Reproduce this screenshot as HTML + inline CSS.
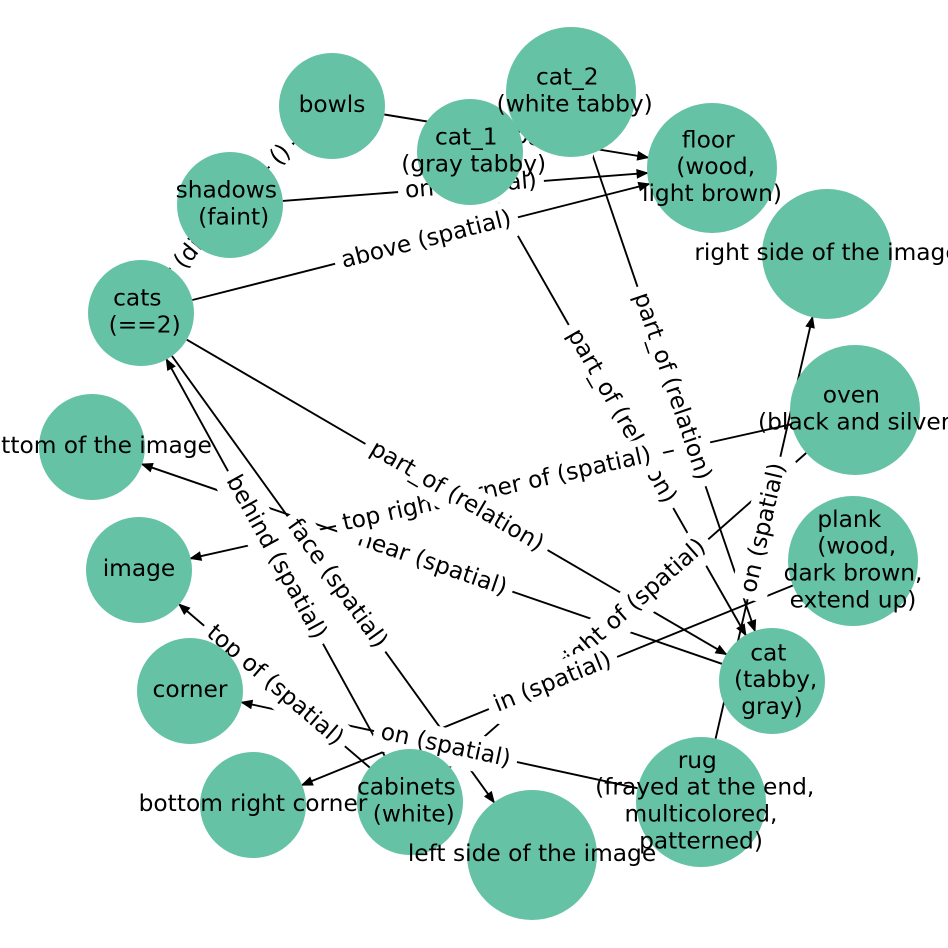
<!DOCTYPE html>
<html><head><meta charset="utf-8"><style>
html,body{margin:0;padding:0;background:#fff;width:948px;height:948px;overflow:hidden}
svg{display:block}
text{font-family:"DejaVu Sans","Liberation Sans",sans-serif;font-size:23.3px;fill:#000;text-anchor:middle;white-space:pre}
</style></head><body>
<svg width="948" height="948" viewBox="0 0 948 948" xml:space="preserve">
<rect width="948" height="948" fill="#fff"/>
<g stroke="#000" stroke-width="1.9" fill="none">
<line x1="384.3" y1="114.5" x2="647.8" y2="157.5"/>
<line x1="282.8" y1="200.9" x2="647.2" y2="173.0"/>
<line x1="192.4" y1="300.0" x2="649.0" y2="184.0"/>
<line x1="174.7" y1="272.1" x2="196.3" y2="245.9"/>
<line x1="268.0" y1="168.1" x2="294.0" y2="142.9"/>
<line x1="496.3" y1="198.0" x2="745.7" y2="635.0"/>
<line x1="592.0" y1="153.5" x2="754.9" y2="630.8"/>
<line x1="186.8" y1="339.7" x2="726.2" y2="654.3"/>
<line x1="721.9" y1="663.8" x2="142.1" y2="464.2"/>
<line x1="384.5" y1="755.6" x2="166.5" y2="359.4"/>
<line x1="172.0" y1="356.0" x2="494.0" y2="802.3"/>
<line x1="369.7" y1="767.5" x2="179.3" y2="604.5"/>
<line x1="637.5" y1="788.2" x2="241.8" y2="702.3"/>
<line x1="715.6" y1="738.7" x2="812.4" y2="317.3"/>
<line x1="806.2" y1="453.0" x2="449.8" y2="767.0"/>
<line x1="791.6" y1="424.2" x2="190.7" y2="558.4"/>
<line x1="792.8" y1="585.5" x2="302.1" y2="785.0"/>
</g>
<g fill="#000" stroke="#000" stroke-width="1.2" stroke-linejoin="miter">
<polygon points="647.8,157.5 637.3,159.9 638.5,151.9"/>
<polygon points="647.2,173.0 637.5,177.8 636.9,169.8"/>
<polygon points="649.0,184.0 640.3,190.4 638.3,182.6"/>
<polygon points="294.0,142.9 289.6,152.8 284.0,147.0"/>
<polygon points="745.7,635.0 737.2,628.3 744.2,624.3"/>
<polygon points="754.9,630.8 747.9,622.6 755.5,620.0"/>
<polygon points="726.2,654.3 715.6,652.8 719.6,645.8"/>
<polygon points="142.1,464.2 152.9,463.7 150.3,471.3"/>
<polygon points="166.5,359.4 174.8,366.3 167.8,370.1"/>
<polygon points="494.0,802.3 485.0,796.5 491.4,791.9"/>
<polygon points="179.3,604.5 189.5,608.0 184.3,614.0"/>
<polygon points="241.8,702.3 252.4,700.5 250.8,708.3"/>
<polygon points="812.4,317.3 814.1,327.9 806.3,326.1"/>
<polygon points="449.8,767.0 454.7,757.4 459.9,763.4"/>
<polygon points="190.7,558.4 199.6,552.3 201.4,560.1"/>
<polygon points="302.1,785.0 309.9,777.5 312.9,784.9"/>
</g>
<!-- edge labels -->
<g transform="translate(522 137) rotate(9.27)"><rect x="-73.1" y="-18.5" width="146.2" height="37" rx="7" fill="#fff"/><text y="6.1">on (spatial)</text></g>
<g transform="translate(471 186.5) rotate(-4.39)"><rect x="-73.1" y="-18.5" width="146.2" height="37" rx="7" fill="#fff"/><text y="6.1">on (spatial)</text></g>
<g transform="translate(281 155.5) rotate(-44.1)"><rect x="-16.1" y="-18.5" width="32.2" height="37" rx="7" fill="#fff"/><text y="6.1">()</text></g>
<g transform="translate(621 416.5) rotate(60.3)"><rect x="-105.4" y="-18.5" width="210.8" height="37" rx="7" fill="#fff"/><text y="6.1">part_of (relation)</text></g>
<g transform="translate(671.5 386.5) rotate(71.15)"><rect x="-105.4" y="-18.5" width="210.8" height="37" rx="7" fill="#fff"/><text y="6.1">part_of (relation)</text></g>
<g transform="translate(432 564) rotate(18.99)"><rect x="-85" y="-18.5" width="170" height="37" rx="7" fill="#fff"/><text y="6.1">near (spatial)</text></g>
<g transform="translate(274.5 686) rotate(40.6)"><rect x="-92.6" y="-18.5" width="185.2" height="37" rx="7" fill="#fff"/><text y="6.1">top of (spatial)</text></g>
<g transform="translate(275.5 557.5) rotate(61.2)"><rect x="-98.5" y="-18.5" width="197" height="37" rx="7" fill="#fff"/><text y="6.1">behind (spatial)</text></g>
<g transform="translate(632.5 606) rotate(-41.37)"><rect x="-100.9" y="-18.5" width="201.8" height="37" rx="7" fill="#fff"/><text y="6.1">right of (spatial)</text></g>
<g transform="translate(445.5 746.5) rotate(12.25)"><rect x="-73.1" y="-18.5" width="146.2" height="37" rx="7" fill="#fff"/><text y="6.1">on (spatial)</text></g>
<g transform="translate(764 528) rotate(-77.05)"><rect x="-73.1" y="-18.5" width="146.2" height="37" rx="7" fill="#fff"/><text y="6.1">on (spatial)</text></g>
<g transform="translate(497 490) rotate(-12.6)"><rect x="-165" y="-18.5" width="330" height="37" rx="7" fill="#fff"/><text y="6.1">top right corner of (spatial)</text></g>
<g transform="translate(553 683) rotate(-22.1)"><rect x="-69.2" y="-18.5" width="138.4" height="37" rx="7" fill="#fff"/><text y="6.1">in (spatial)</text></g>
<g transform="translate(426.5 240.5) rotate(-14.25)"><rect x="-94.3" y="-18.5" width="188.6" height="37" rx="7" fill="#fff"/><text y="6.1">above (spatial)</text></g>
<g transform="translate(456.5 497) rotate(30.25)"><rect x="-105.4" y="-18.5" width="210.8" height="37" rx="7" fill="#fff"/><text y="6.1">part_of (relation)</text></g>
<g transform="translate(336.5 584) rotate(54.2)"><rect x="-83.4" y="-18.5" width="166.8" height="37" rx="7" fill="#fff"/><text y="6.1">face (spatial)</text></g>
<g transform="translate(185.5 259) rotate(-50.5)"><rect x="-92" y="-18.5" width="210.4" height="37" rx="7" fill="#fff"/><text x="13" y="6.1">under (direction)</text></g>
<!-- nodes -->
<g fill="#66c2a5">
<circle cx="332" cy="106" r="53"/>
<circle cx="230" cy="205" r="53"/>
<circle cx="470" cy="152" r="53"/>
<circle cx="571" cy="92" r="65"/>
<circle cx="712" cy="168" r="65"/>
<circle cx="827" cy="254" r="65"/>
<circle cx="141" cy="313" r="53"/>
<circle cx="92" cy="447" r="53"/>
<circle cx="139" cy="570" r="53"/>
<circle cx="190" cy="691" r="53"/>
<circle cx="253" cy="805" r="53"/>
<circle cx="410" cy="802" r="53"/>
<circle cx="532" cy="855" r="65"/>
<circle cx="701" cy="802" r="65"/>
<circle cx="772" cy="681" r="53"/>
<circle cx="853" cy="561" r="65"/>
<circle cx="855" cy="410" r="65"/>
</g>
<!-- node labels -->
<text x="332" y="112.1">bowls</text>
<text x="230" y="197.7">shadows </text>
<text x="230" y="224.5"> (faint)</text>
<text x="470" y="144.7">cat_1 </text>
<text x="470" y="171.5"> (gray tabby)</text>
<text x="571" y="84.7">cat_2 </text>
<text x="571" y="111.5"> (white tabby)</text>
<text x="712" y="147.3">floor </text>
<text x="712" y="174.1"> (wood,</text>
<text x="712" y="200.9">light brown)</text>
<text x="827" y="260.1">right side of the image</text>
<text x="141" y="305.7">cats </text>
<text x="141" y="332.5"> (==2)</text>
<text x="92" y="453.1">bottom of the image</text>
<text x="139" y="576.1">image</text>
<text x="190" y="697.1">corner</text>
<text x="253" y="811.1">bottom right corner</text>
<text x="410" y="794.7">cabinets </text>
<text x="410" y="821.5"> (white)</text>
<text x="532" y="861.1">left side of the image</text>
<text x="701" y="767.9">rug </text>
<text x="701" y="794.7"> (frayed at the end,</text>
<text x="701" y="821.5">multicolored,</text>
<text x="701" y="848.3">patterned)</text>
<text x="772" y="660.3">cat </text>
<text x="772" y="687.1"> (tabby,</text>
<text x="772" y="713.9">gray)</text>
<text x="853" y="526.9">plank </text>
<text x="853" y="553.7"> (wood,</text>
<text x="853" y="580.5">dark brown,</text>
<text x="853" y="607.3">extend up)</text>
<text x="855" y="402.7">oven </text>
<text x="855" y="429.5"> (black and silver)</text>
</svg>
</body></html>
